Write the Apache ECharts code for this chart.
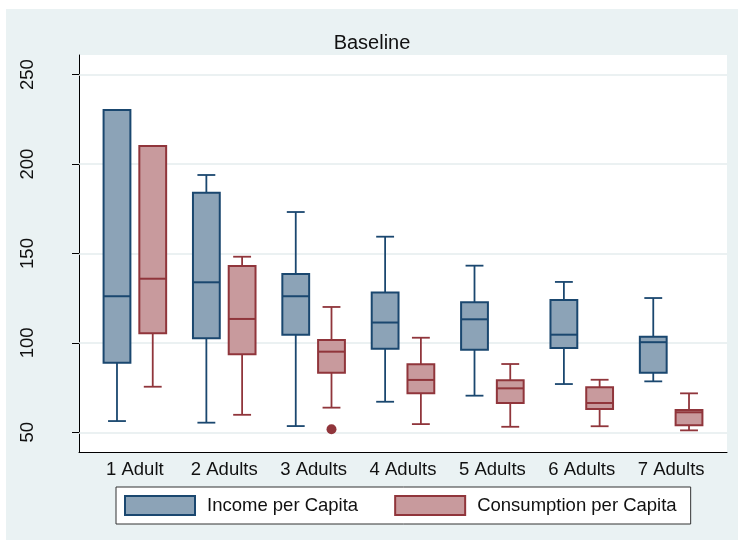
<!DOCTYPE html>
<html>
<head>
<meta charset="utf-8">
<title>Baseline</title>
<script src="https://cdn.jsdelivr.net/npm/echarts@6/dist/echarts.min.js"></script>
<style>
  html, body { margin: 0; padding: 0; background: #ffffff; }
  #chart { position: absolute; left: 6px; top: 9px; width: 732px; height: 531px; }
</style>
</head>
<body>
<div id="chart"></div>
<script>
// Household size groups shown along the x axis
const categories = ['1 Adult', '2 Adults', '3 Adults', '4 Adults', '5 Adults', '6 Adults', '7 Adults'];

// Five-number summaries per group: [lower whisker, Q1, median, Q3, upper whisker]
const incomeStats = [
  [56.3, 88.9, 126.1, 230.3, 230.3],
  [55.4, 102.6, 133.9, 184.0, 193.9],
  [53.5, 104.6, 126.1, 138.5, 173.2],
  [67.1, 96.7, 111.4, 128.2, 159.4],
  [70.5, 96.2, 113.2, 122.7, 143.2],
  [77.0, 97.1, 104.6, 124.0, 134.1],
  [78.5, 83.3, 100.4, 103.5, 125.1]
];
const consumptionStats = [
  [75.5, 105.4, 135.9, 210.1, 210.1],
  [59.8, 93.6, 113.4, 143.0, 148.2],
  [63.8, 83.3, 95.1, 101.6, 120.1],
  [54.6, 71.8, 79.3, 88.0, 102.9],
  [53.1, 66.4, 74.6, 79.1, 88.2],
  [53.4, 63.0, 66.4, 75.2, 79.4],
  [51.1, 53.9, 61.2, 62.5, 71.8]
];
// Outside values: [group index, value]
const consumptionOutliers = [[2, 51.7]];

// Y axis tick values
const yTicks = [50, 100, 150, 200, 250];

const FONT = '"Liberation Sans", Arial, Helvetica, sans-serif';
const INCOME_FILL = '#8ca3b7', INCOME_LINE = '#1a476f';
const CONS_FILL = '#c89a9d', CONS_LINE = '#90353b';
const PAIR_OFFSET = 0.2;   // shift of each box from the group centre (x units)
const BOX_W = 0.3;         // box width (x units)
const CAP_W = 0.2;         // whisker cap width (x units)

function boxData(stats) {
  return stats.map((s, i) => [i + 1].concat(s));
}

function boxRenderer(offset, fill, stroke) {
  return function (params, api) {
    const x = api.value(0) + offset;
    const lo = api.value(1), q1 = api.value(2), med = api.value(3), q3 = api.value(4), hi = api.value(5);
    const unit = api.size([1, 0])[0];
    const half = unit * BOX_W / 2;
    const capHalf = unit * CAP_W / 2;
    const pLo = api.coord([x, lo]);
    const pQ1 = api.coord([x, q1]);
    const pMed = api.coord([x, med]);
    const pQ3 = api.coord([x, q3]);
    const pHi = api.coord([x, hi]);
    const cx = pMed[0];
    const whisker = { stroke: stroke, lineWidth: 1.8 };
    const children = [
      { type: 'line', shape: { x1: cx, y1: pQ3[1], x2: cx, y2: pHi[1] }, style: whisker },
      { type: 'line', shape: { x1: cx, y1: pQ1[1], x2: cx, y2: pLo[1] }, style: whisker },
      { type: 'line', shape: { x1: cx - capHalf, y1: pHi[1], x2: cx + capHalf, y2: pHi[1] }, style: whisker },
      { type: 'line', shape: { x1: cx - capHalf, y1: pLo[1], x2: cx + capHalf, y2: pLo[1] }, style: whisker },
      { type: 'rect', shape: { x: cx - half, y: pQ3[1], width: half * 2, height: pQ1[1] - pQ3[1] },
        style: { fill: fill, stroke: stroke, lineWidth: 2 } },
      { type: 'line', shape: { x1: cx - half, y1: pMed[1], x2: cx + half, y2: pMed[1] },
        style: { stroke: stroke, lineWidth: 2 } }
    ];
    return { type: 'group', children: children };
  };
}

const chart = echarts.init(document.getElementById('chart'), null, { renderer: 'canvas' });

chart.setOption({
  backgroundColor: '#eaf2f3',
  animation: false,
  textStyle: { fontFamily: FONT },
  title: {
    text: 'Baseline',
    left: 'center',
    top: 19,
    textStyle: { fontFamily: FONT, fontSize: 20, fontWeight: 'normal', color: '#111111' }
  },
  grid: {
    left: 73, right: 11, top: 46, bottom: 88,
    show: true, backgroundColor: '#ffffff', borderWidth: 0
  },
  legend: {
    left: 110, top: 478,
    orient: 'horizontal',
    backgroundColor: '#ffffff',
    borderColor: '#333333',
    borderWidth: 1,
    borderRadius: 0,
    padding: [8, 14, 8, 8],
    itemWidth: 70,
    itemHeight: 19,
    itemGap: 36,
    icon: 'rect',
    textStyle: { fontFamily: FONT, fontSize: 18.5, color: '#111111', padding: [0, 0, 0, 7] },
    data: [
      { name: 'Income per Capita', itemStyle: { color: INCOME_FILL, borderColor: INCOME_LINE, borderWidth: 2 } },
      { name: 'Consumption per Capita', itemStyle: { color: CONS_FILL, borderColor: CONS_LINE, borderWidth: 2 } }
    ]
  },
  xAxis: {
    type: 'value',
    min: 0.375,
    max: 7.625,
    axisLine: { show: true, lineStyle: { color: '#000000', width: 1 } },
    axisTick: { show: false },
    splitLine: { show: false },
    axisLabel: {
      customValues: categories.map((c, i) => i + 1),
      formatter: v => categories[Math.round(v) - 1] || '',
      fontFamily: FONT, fontSize: 18.5, color: '#111111', margin: 8
    }
  },
  yAxis: {
    type: 'value',
    min: 39,
    max: 261,
    axisLine: { show: true, lineStyle: { color: '#000000', width: 1 } },
    axisTick: { show: true, length: 7, customValues: yTicks, lineStyle: { color: '#000000', width: 1 } },
    splitLine: { show: false },
    axisLabel: {
      customValues: yTicks,
      rotate: 90,
      fontFamily: FONT, fontSize: 18.5, color: '#111111', margin: 42
    }
  },
  series: [
    {
      // horizontal grid lines at the labelled ticks
      name: 'grid',
      type: 'line',
      data: [],
      silent: true,
      markLine: {
        silent: true,
        symbol: ['none', 'none'],
        z: 1,
        label: { show: false },
        lineStyle: { color: '#e4ecee', width: 1.5, type: 'solid' },
        emphasis: { disabled: true },
        data: yTicks.map(v => ({ yAxis: v }))
      }
    },
    {
      name: 'Income per Capita',
      type: 'custom',
      renderItem: boxRenderer(-PAIR_OFFSET, INCOME_FILL, INCOME_LINE),
      itemStyle: { color: INCOME_FILL, borderColor: INCOME_LINE },
      encode: { x: 0, y: [1, 2, 3, 4, 5] },
      data: boxData(incomeStats),
      z: 3
    },
    {
      name: 'Consumption per Capita',
      type: 'custom',
      renderItem: boxRenderer(PAIR_OFFSET, CONS_FILL, CONS_LINE),
      itemStyle: { color: CONS_FILL, borderColor: CONS_LINE },
      encode: { x: 0, y: [1, 2, 3, 4, 5] },
      data: boxData(consumptionStats),
      z: 3
    },
    {
      name: 'Consumption outliers',
      type: 'scatter',
      symbol: 'circle',
      symbolSize: 10,
      itemStyle: { color: CONS_LINE, opacity: 1 },
      data: consumptionOutliers.map(o => [o[0] + 1 + PAIR_OFFSET, o[1]]),
      z: 4
    }
  ]
});
</script>
</body>
</html>
